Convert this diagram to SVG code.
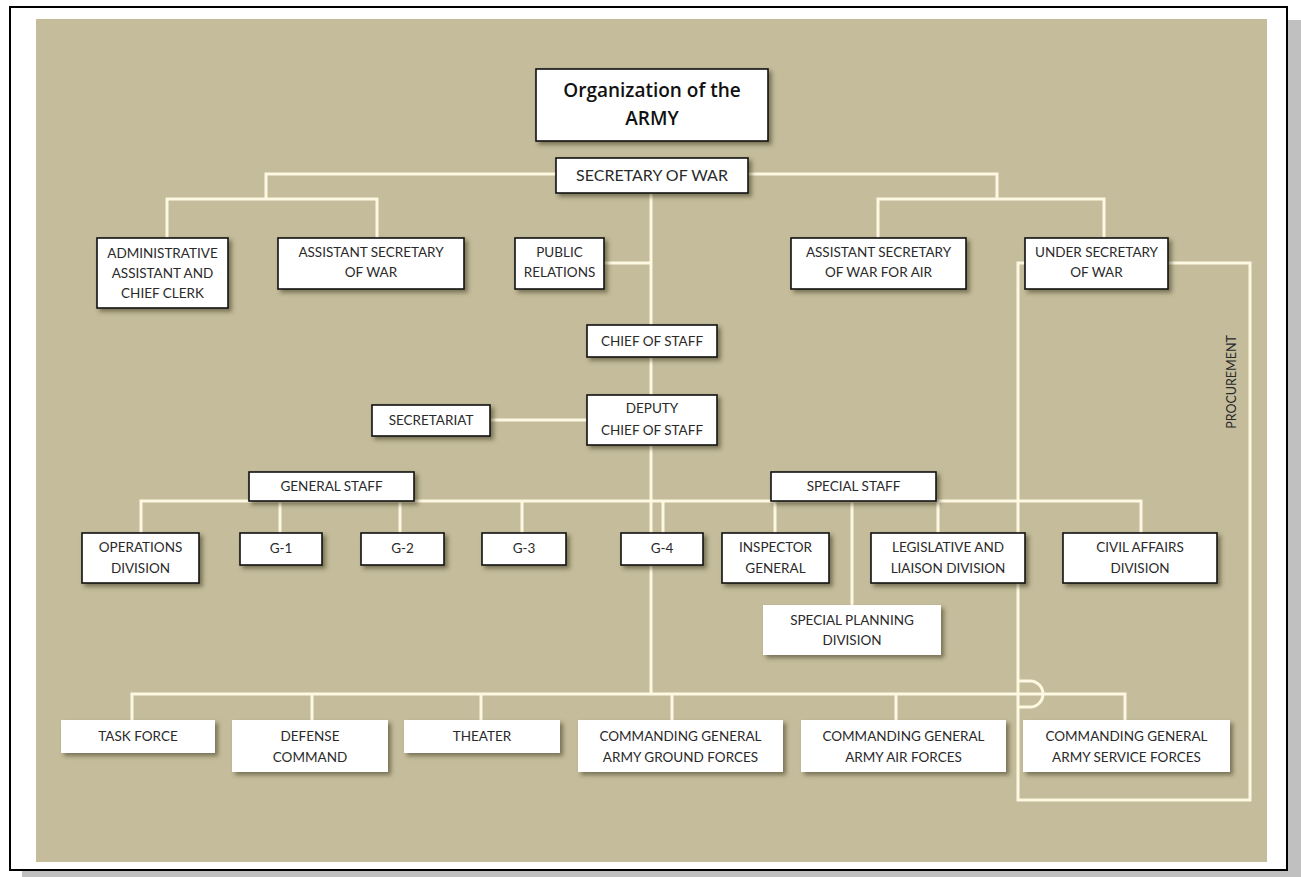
<svg xmlns="http://www.w3.org/2000/svg" width="1301" height="877" viewBox="0 0 1301 877">
<defs>
<filter id="sh" x="-10%" y="-20%" width="130%" height="160%">
<feDropShadow dx="3" dy="3" stdDeviation="2" flood-color="#3a3520" flood-opacity="0.55"/>
</filter>
<style>
.b{fill:#ffffff;stroke:#111111;stroke-width:1.6;filter:url(#sh)}
.w{fill:#ffffff;stroke:none;filter:url(#sh)}
.t{font-family:Lato,"Open Sans",sans-serif;font-size:13.5px;fill:#2a2a2a;text-anchor:middle}
.s{font-family:Lato,"Open Sans",sans-serif;font-size:16px;fill:#2a2a2a;text-anchor:middle}
.ttl{font-family:"Open Sans","Liberation Sans",sans-serif;font-size:19px;font-weight:600;fill:#111111;text-anchor:middle}
.c{fill:none;stroke:#fdf8e2;stroke-width:3}
</style>
</defs>
<rect x="22" y="20" width="1279" height="857" fill="#c0c0c0"/>
<rect x="10" y="7" width="1277" height="863" fill="#ffffff" stroke="#000000" stroke-width="2"/>
<rect x="36" y="19" width="1231" height="843" fill="#c4bc9a"/>

<g id="connectors">
<path class="c" d="M556,174 H266 V199 M167,238 V199 H377 V238"/>
<path class="c" d="M748,174 H997 V199 M878,238 V199 H1104 V238"/>
<path class="c" d="M651,193 V694"/>
<path class="c" d="M604,263 H651"/>
<path class="c" d="M490,420 H587"/>
<path class="c" d="M141,533 V501 H1141 V533 M280,501 V533 M400,501 V533 M522,501 V533 M663,501 V533 M775,501 V533 M938,501 V533 M852,501 V605"/>
<path class="c" d="M132,720 V694 H1125 V720 M312,694 V720 M481,694 V720 M672,694 V720 M896,694 V720"/>
<path class="c" d="M1168,263 H1250 V800 H1018 V263 H1025"/>
<path class="c" d="M1018,681 H1030 A13,13 0 0 1 1030,707 H1018"/>
</g>

<g id="title"><rect class="b" x="536" y="69" width="232" height="72"/><text class="ttl" x="652" y="97">Organization of the</text><text class="ttl" x="652" y="125">ARMY</text></g>
<g id="secretary-of-war"><rect class="b" x="556" y="158" width="192" height="35"/><text class="s" x="652" y="181">SECRETARY OF WAR</text></g>
<g id="admin-assistant"><rect class="b" x="97" y="238" width="131" height="70"/><text class="t" x="162.5" y="258">ADMINISTRATIVE</text><text class="t" x="162.5" y="278">ASSISTANT AND</text><text class="t" x="162.5" y="298">CHIEF CLERK</text></g>
<g id="assistant-secretary"><rect class="b" x="278" y="238" width="186" height="51"/><text class="t" x="371" y="257">ASSISTANT SECRETARY</text><text class="t" x="371" y="277">OF WAR</text></g>
<g id="public-relations"><rect class="b" x="515" y="238" width="89" height="51"/><text class="t" x="559.5" y="257">PUBLIC</text><text class="t" x="559.5" y="277">RELATIONS</text></g>
<g id="assistant-secretary-air"><rect class="b" x="791" y="238" width="175" height="51"/><text class="t" x="878.5" y="257">ASSISTANT SECRETARY</text><text class="t" x="878.5" y="277">OF WAR FOR AIR</text></g>
<g id="under-secretary"><rect class="b" x="1025" y="238" width="143" height="51"/><text class="t" x="1096.5" y="257">UNDER SECRETARY</text><text class="t" x="1096.5" y="277">OF WAR</text></g>
<g id="chief-of-staff"><rect class="b" x="587" y="325" width="130" height="32"/><text class="t" x="652" y="346">CHIEF OF STAFF</text></g>
<g id="deputy-chief"><rect class="b" x="587" y="395" width="130" height="50"/><text class="t" x="652" y="413">DEPUTY</text><text class="t" x="652" y="435">CHIEF OF STAFF</text></g>
<g id="secretariat"><rect class="b" x="372" y="405" width="118" height="31"/><text class="t" x="431" y="425">SECRETARIAT</text></g>
<g id="general-staff"><rect class="b" x="249" y="472" width="165" height="29"/><text class="t" x="331.5" y="491">GENERAL STAFF</text></g>
<g id="special-staff"><rect class="b" x="771" y="472" width="165" height="29"/><text class="t" x="853.5" y="491">SPECIAL STAFF</text></g>
<g id="operations-division"><rect class="b" x="82" y="533" width="117" height="50"/><text class="t" x="140.5" y="552">OPERATIONS</text><text class="t" x="140.5" y="573">DIVISION</text></g>
<g id="g1"><rect class="b" x="240" y="533" width="82" height="32"/><text class="t" x="281" y="553">G-1</text></g>
<g id="g2"><rect class="b" x="361" y="533" width="83" height="32"/><text class="t" x="402.5" y="553">G-2</text></g>
<g id="g3"><rect class="b" x="482" y="533" width="84" height="32"/><text class="t" x="524" y="553">G-3</text></g>
<g id="g4"><rect class="b" x="621" y="533" width="82" height="32"/><text class="t" x="662" y="553">G-4</text></g>
<g id="inspector-general"><rect class="b" x="722" y="533" width="107" height="50"/><text class="t" x="775.5" y="552">INSPECTOR</text><text class="t" x="775.5" y="573">GENERAL</text></g>
<g id="legislative-liaison"><rect class="b" x="871" y="533" width="154" height="50"/><text class="t" x="948" y="552">LEGISLATIVE AND</text><text class="t" x="948" y="573">LIAISON DIVISION</text></g>
<g id="civil-affairs"><rect class="b" x="1063" y="533" width="154" height="50"/><text class="t" x="1140" y="552">CIVIL AFFAIRS</text><text class="t" x="1140" y="573">DIVISION</text></g>
<g id="special-planning"><rect class="w" x="763" y="605" width="178" height="50"/><text class="t" x="852" y="625">SPECIAL PLANNING</text><text class="t" x="852" y="645">DIVISION</text></g>
<g id="task-force"><rect class="w" x="61" y="720" width="154" height="33"/><text class="t" x="138" y="741">TASK FORCE</text></g>
<g id="defense-command"><rect class="w" x="232" y="720" width="156" height="52"/><text class="t" x="310" y="741">DEFENSE</text><text class="t" x="310" y="762">COMMAND</text></g>
<g id="theater"><rect class="w" x="404" y="720" width="156" height="33"/><text class="t" x="482" y="741">THEATER</text></g>
<g id="cg-ground"><rect class="w" x="578" y="720" width="205" height="52"/><text class="t" x="680.5" y="741">COMMANDING GENERAL</text><text class="t" x="680.5" y="762">ARMY GROUND FORCES</text></g>
<g id="cg-air"><rect class="w" x="801" y="720" width="205" height="52"/><text class="t" x="903.5" y="741">COMMANDING GENERAL</text><text class="t" x="903.5" y="762">ARMY AIR FORCES</text></g>
<g id="cg-service"><rect class="w" x="1023" y="720" width="207" height="52"/><text class="t" x="1126.5" y="741">COMMANDING GENERAL</text><text class="t" x="1126.5" y="762">ARMY SERVICE FORCES</text></g>
<text class="t" transform="translate(1236,382) rotate(-90)" style="font-size:12.5px">PROCUREMENT</text>
</svg>
